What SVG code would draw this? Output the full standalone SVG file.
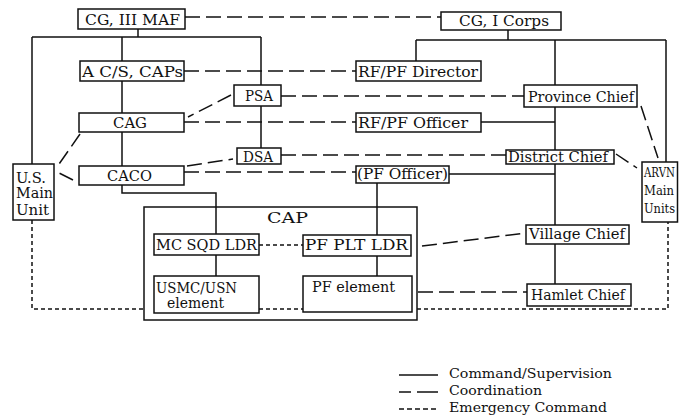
<svg xmlns="http://www.w3.org/2000/svg" width="679" height="417" viewBox="0 0 679 417">
<style>
.box{fill:#fff;stroke:#111;stroke-width:1.5}
.cmd{fill:none;stroke:#111;stroke-width:1.5}
.crd{fill:none;stroke:#111;stroke-width:1.5;stroke-dasharray:15 6}
.emg{fill:none;stroke:#111;stroke-width:1.5;stroke-dasharray:4 3}
text{font-family:"DejaVu Serif","Liberation Serif",serif;font-size:14.5px;fill:#111}
.lg{font-size:13px}
.sm{font-size:12px}
</style>
<rect width="679" height="417" fill="#fff"/>
<g id="connectors">
<path class="cmd" d="M138,29V37M32,37H261M32,37V164M122,37V61M122,81V113M261,37V85M261,106V148M122,132V166M122,185V193H216V234M216,255V276M377,183V235M377,256V276M449,174H555M508,30V40M416,40H666M416,40V61M555,40V85M555,107V150M555,164V225M555,244V284M666,40V162M481,122H555"/>
<path class="crd" d="M185,17H441M184,71H356M281,96H524M184,122H356M231,95L188,117M80,134L57,167M73,180L57,172M187,166L233,159M281,155H506M184,172H356M616,154L637,168M641,106L658,158M422,246L526,233M418,292H527"/>
<path class="emg" d="M32,220V309H144M259,245H303M259,309H303M417,309H668V222"/>
</g>
<g id="cap"><rect x="144" y="207" width="273" height="113" fill="none" stroke="#111" stroke-width="1.5"/><text x="267" y="223" textLength="41" lengthAdjust="spacingAndGlyphs">CAP</text></g>
<g id="cg3maf"><rect class="box" x="78" y="9" width="107" height="20"/><text x="85" y="25" textLength="95" lengthAdjust="spacingAndGlyphs">CG, III MAF</text></g>
<g id="cg1corps"><rect class="box" x="441" y="12" width="120" height="18"/><text x="459" y="26" textLength="90" lengthAdjust="spacingAndGlyphs">CG, I Corps</text></g>
<g id="acs"><rect class="box" x="80" y="61" width="104" height="20"/><text x="82" y="77" textLength="101" lengthAdjust="spacingAndGlyphs">A C/S, CAPs</text></g>
<g id="rfpfdir"><rect class="box" x="356" y="61" width="125" height="20"/><text x="358" y="77" textLength="120" lengthAdjust="spacingAndGlyphs">RF/PF Director</text></g>
<g id="psa"><rect class="box" x="234" y="85" width="47" height="21"/><text x="245" y="101" textLength="28" lengthAdjust="spacingAndGlyphs">PSA</text></g>
<g id="provchief"><rect class="box" x="524" y="85" width="113" height="22"/><text x="528" y="102" textLength="106" lengthAdjust="spacingAndGlyphs">Province Chief</text></g>
<g id="cag"><rect class="box" x="79" y="113" width="105" height="19"/><text x="113" y="128" textLength="34" lengthAdjust="spacingAndGlyphs">CAG</text></g>
<g id="rfpfoff"><rect class="box" x="356" y="113" width="125" height="19"/><text x="358" y="128" textLength="110" lengthAdjust="spacingAndGlyphs">RF/PF Officer</text></g>
<g id="dsa"><rect class="box" x="237" y="148" width="44" height="16"/><text x="243" y="162" textLength="30" lengthAdjust="spacingAndGlyphs">DSA</text></g>
<g id="distchief"><rect class="box" x="506" y="150" width="108" height="14"/><text x="508" y="162" textLength="100" lengthAdjust="spacingAndGlyphs">District Chief</text></g>
<g id="caco"><rect class="box" x="79" y="166" width="105" height="19"/><text x="107" y="181" textLength="45" lengthAdjust="spacingAndGlyphs">CACO</text></g>
<g id="pfoff"><rect class="box" x="356" y="166" width="93" height="17"/><text x="357" y="179" textLength="91" lengthAdjust="spacingAndGlyphs">(PF Officer)</text></g>
<g id="usmain"><rect class="box" x="13" y="164" width="41" height="56"/><text x="16" y="183" textLength="30" lengthAdjust="spacingAndGlyphs">U.S.</text><text x="16" y="198" textLength="37" lengthAdjust="spacingAndGlyphs">Main</text><text x="16" y="215" textLength="33" lengthAdjust="spacingAndGlyphs">Unit</text></g>
<g id="arvn"><rect class="box" x="642" y="162" width="35.5" height="60"/><text class="sm" x="644" y="177" textLength="31" lengthAdjust="spacingAndGlyphs">ARVN</text><text class="sm" x="644" y="195" textLength="30" lengthAdjust="spacingAndGlyphs">Main</text><text class="sm" x="644" y="213" textLength="31" lengthAdjust="spacingAndGlyphs">Units</text></g>
<g id="mcsqd"><rect class="box" x="154" y="234" width="105" height="21"/><text x="156" y="250" textLength="101" lengthAdjust="spacingAndGlyphs">MC SQD LDR</text></g>
<g id="pfplt"><rect class="box" x="303" y="235" width="108" height="21"/><text x="305" y="250" textLength="103" lengthAdjust="spacingAndGlyphs">PF PLT LDR</text></g>
<g id="villchief"><rect class="box" x="526" y="225" width="103" height="19"/><text x="529" y="239" textLength="96" lengthAdjust="spacingAndGlyphs">Village Chief</text></g>
<g id="usmc"><rect class="box" x="154" y="276" width="105" height="37"/><text x="156" y="293" textLength="81" lengthAdjust="spacingAndGlyphs">USMC/USN</text><text x="167" y="308" textLength="57" lengthAdjust="spacingAndGlyphs">element</text></g>
<g id="pfel"><rect class="box" x="303" y="276" width="109" height="36"/><text x="312" y="292" textLength="83" lengthAdjust="spacingAndGlyphs">PF element</text></g>
<g id="hamchief"><rect class="box" x="527" y="284" width="104" height="22"/><text x="531" y="300" textLength="94" lengthAdjust="spacingAndGlyphs">Hamlet Chief</text></g>
<g id="legend">
<path class="cmd" d="M399,375H438"/>
<path class="cmd" d="M399,392H411M417,392H438"/>
<path class="cmd" d="M399,409H438" stroke-dasharray="5 3"/>
<text class="lg" x="449" y="378" textLength="163" lengthAdjust="spacingAndGlyphs">Command/Supervision</text>
<text class="lg" x="449" y="395" textLength="93" lengthAdjust="spacingAndGlyphs">Coordination</text>
<text class="lg" x="449" y="412" textLength="158" lengthAdjust="spacingAndGlyphs">Emergency Command</text>
</g>
</svg>
